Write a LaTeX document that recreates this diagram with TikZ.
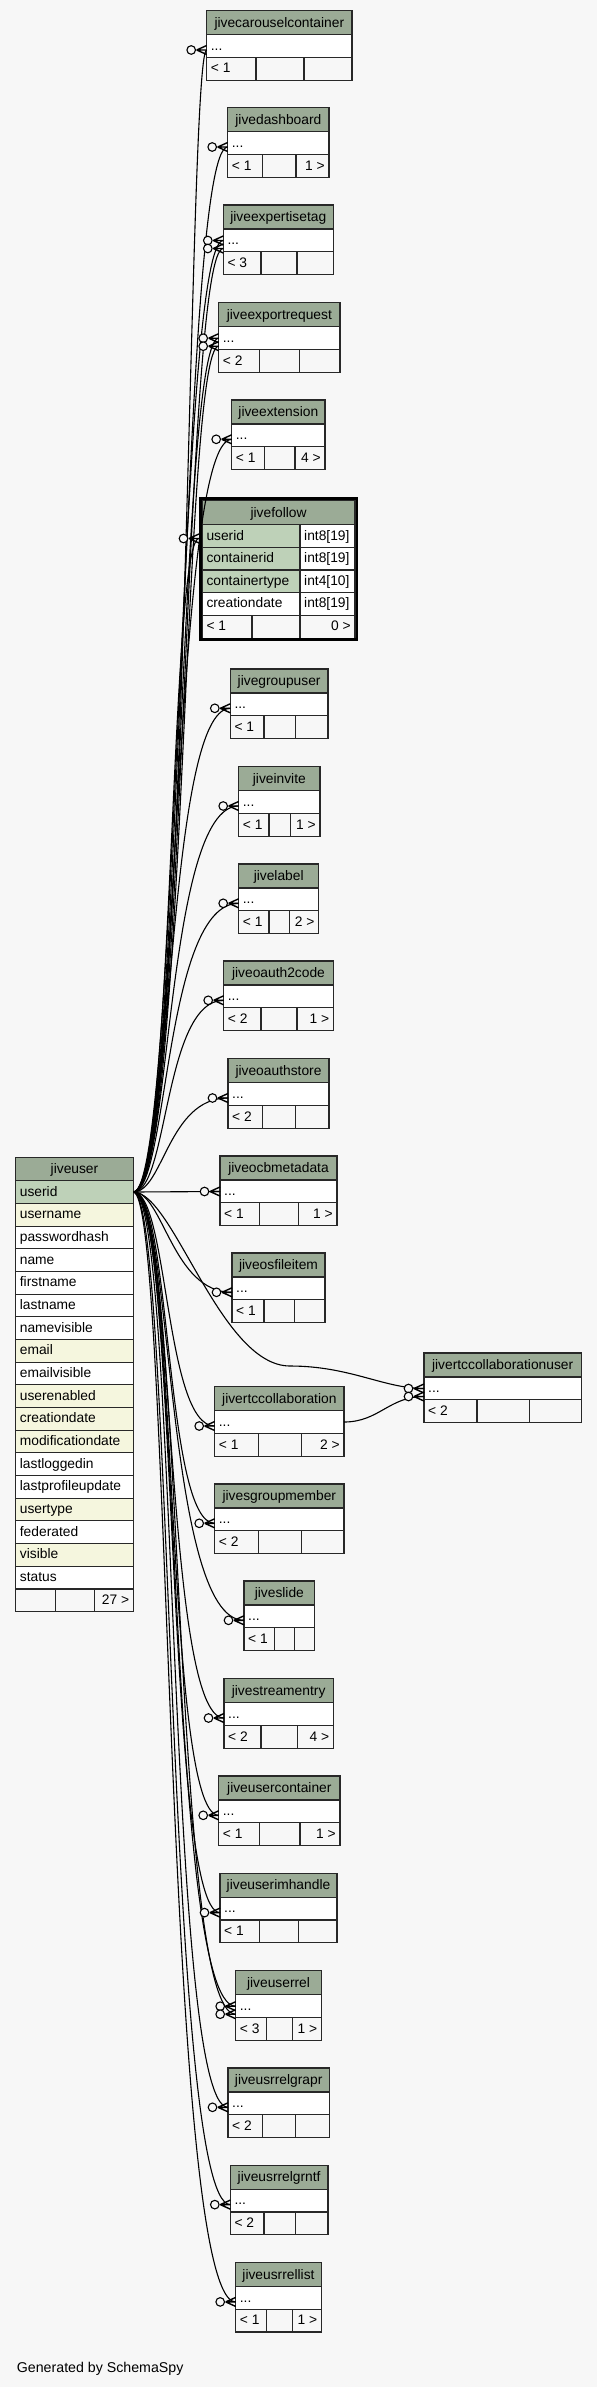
\documentclass[tikz,border=0pt]{standalone}
\usepackage{fontspec}
\setmainfont{Liberation Sans}
\usetikzlibrary{calc}
\definecolor{bgc}{RGB}{247,247,247}
\definecolor{hdrc}{RGB}{155,171,150}
\definecolor{keyc}{RGB}{190,209,184}
\definecolor{idxc}{RGB}{245,246,222}
\definecolor{linec}{RGB}{40,40,40}
\newcommand{\tbl}[9]{%
 \pgfmathsetmacro{\tya}{#3+24}%
 \pgfmathsetmacro{\tyb}{#3+46.7}%
 \pgfmathsetmacro{\tyc}{#3+69.4}%
 \draw[cell,fill=hdrc] (#2,#3) rectangle (#4,\tya);
 \draw[cell,fill=white] (#2,\tya) rectangle (#4,\tyb);
 \draw[cell] (#2,\tyb) rectangle (#5,\tyc);
 \draw[cell] (#5,\tyb) rectangle (#6,\tyc);
 \draw[cell] (#6,\tyb) rectangle (#4,\tyc);
 \node[txt,anchor=base] (#1-h) at ({(#2+#4)/2},{#3+16.5}) {#9};
 \node[txt,anchor=base west] (#1-d) at ({#2+4},{#3+39.5}) {...};
 \node[txt,anchor=base west] (#1-l) at ({#2+4},{#3+62.3}) {#7};
 \node[txt,anchor=base east] (#1-r) at ({#4-4},{#3+62.3}) {#8};
 \coordinate (#1) at (#2,{#3+39.3});
 \coordinate (#1-a) at (#2,{#3+35.5});
 \coordinate (#1-b) at (#2,{#3+43.5});
}
\newcommand{\rel}[3]{\draw[edge] (ju-userid) .. controls +(#2,0) and +(-#3,0) .. (#1);}
\begin{document}
\begin{tikzpicture}[x=1pt,y=-1pt,
  cell/.style={draw=linec,line width=1.1pt},
  txt/.style={inner sep=0pt,font=\fontsize{13.8}{16}\selectfont},
  edge/.style={line width=1.1pt,black},
  crowodot/.pic={
    \draw[line width=1.4pt,black] (-10,0) -- (0,-4.5) (-10,0) -- (0,0) (-10,0) -- (0,4.5);
    \draw[line width=1.1pt,black,fill=bgc] (-15.5,0) circle (4.3);
  }]
\fill[bgc] (0,0) rectangle (597,2387);
\useasboundingbox (0,0) rectangle (597,2387);

% ---------- jiveuser ----------
\draw[cell,fill=hdrc] (15.7,1157.3) rectangle (133.3,1180.7);
\node[txt,anchor=base] (ju-h) at (74.5,1173.3) {jiveuser};
\foreach \t/\f [count=\i] in {userid/keyc,username/idxc,passwordhash/white,name/white,firstname/white,lastname/white,namevisible/white,email/idxc,emailvisible/white,userenabled/idxc,creationdate/idxc,modificationdate/idxc,lastloggedin/white,lastprofileupdate/white,usertype/idxc,federated/white,visible/idxc,status/white}{
  \pgfmathsetmacro{\ytop}{1180.7+(\i-1)*22.68}
  \draw[cell,fill=\f] (15.7,\ytop) rectangle (133.3,\ytop+22.68);
  \node[txt,anchor=base west] (ju-r\i) at (19.7,\ytop+15.3) {\t};
}
\draw[cell] (15.7,1588.9) rectangle (55.7,1611.6);
\draw[cell] (55.7,1588.9) rectangle (94.7,1611.6);
\draw[cell] (94.7,1588.9) rectangle (133.3,1611.6);
\node[txt,anchor=base east] (ju-r) at (129.3,1604.6) {27 >};
\coordinate (ju-userid) at (133.3,1192);

% ---------- small tables ----------
\tbl{carousel}{206.7}{10.7}{352}{256}{304}{< 1}{}{jivecarouselcontainer}
\tbl{dashboard}{227.7}{107.7}{329}{262.7}{296}{< 1}{1 >}{jivedashboard}
\tbl{expertisetag}{223.3}{205}{333.3}{261}{297}{< 3}{}{jiveexpertisetag}
\tbl{exportrequest}{218.7}{302.7}{340}{259.7}{299.7}{< 2}{}{jiveexportrequest}
\tbl{extension}{231.7}{400}{325}{264.3}{295}{< 1}{4 >}{jiveextension}
\tbl{groupuser}{230.3}{669}{328}{264}{295.7}{< 1}{}{jivegroupuser}
\tbl{invite}{238.7}{766.7}{320}{269}{290.3}{< 1}{1 >}{jiveinvite}
\tbl{label}{238.7}{864}{318.7}{269}{289.3}{< 1}{2 >}{jivelabel}
\tbl{oauthcode}{223.7}{961}{333.3}{261}{297}{< 2}{1 >}{jiveoauth2code}
\tbl{oauthstore}{228}{1058.7}{329}{262.3}{295.7}{< 2}{}{jiveoauthstore}
\tbl{ocbmetadata}{220}{1156}{337}{259.7}{298.7}{< 1}{1 >}{jiveocbmetadata}
\tbl{osfileitem}{232}{1253}{325}{264}{294.7}{< 1}{}{jiveosfileitem}
\tbl{rtccollab}{214.7}{1386.7}{344}{258.7}{301.7}{< 1}{2 >}{jivertccollaboration}
\tbl{rtcuser}{424}{1353}{581.3}{477}{529.3}{< 2}{}{jivertccollaborationuser}
\tbl{sgroupmember}{214.7}{1484}{344}{258.7}{301.7}{< 2}{}{jivesgroupmember}
\tbl{slide}{244}{1581}{314.7}{274.7}{294.7}{< 1}{}{jiveslide}
\tbl{streamentry}{224}{1678.7}{333.3}{261}{297.3}{< 2}{4 >}{jivestreamentry}
\tbl{usercontainer}{218.7}{1776}{340}{259.7}{300}{< 1}{1 >}{jiveusercontainer}
\tbl{userimhandle}{220}{1873.3}{337}{259.7}{298.7}{< 1}{}{jiveuserimhandle}
\tbl{userrel}{235.7}{1970.7}{321.3}{266.3}{292.3}{< 3}{1 >}{jiveuserrel}
\tbl{usrrelgrapr}{228}{2068}{329.3}{262.3}{295.7}{< 2}{}{jiveusrrelgrapr}
\tbl{usrrelgrntf}{230.3}{2165.3}{328}{264}{295.7}{< 2}{}{jiveusrrelgrntf}
\tbl{usrrellist}{235.7}{2262.6}{321.3}{266.3}{292.3}{< 1}{1 >}{jiveusrrellist}

% ---------- jivefollow ----------
\draw[cell,fill=hdrc] (202.3,500.7) rectangle (355,524.7);
\node[txt,anchor=base] (jf-h) at (278.6,517.2) {jivefollow};
\foreach \a/\b/\f [count=\i] in {userid/int8[19]/keyc,containerid/int8[19]/keyc,containertype/int4[10]/keyc,creationdate/int8[19]/white}{
  \pgfmathsetmacro{\ytop}{524.7+(\i-1)*22.65}
  \draw[cell,fill=\f] (202.3,\ytop) rectangle (300,\ytop+22.65);
  \draw[cell,fill=white] (300,\ytop) rectangle (355,\ytop+22.65);
  \node[txt,anchor=base west] (jf-a\i) at (206.3,\ytop+15.3) {\a};
  \node[txt,anchor=base west] (jf-b\i) at (304,\ytop+15.3) {\b};
}
\draw[cell] (202.3,615.3) rectangle (252,638.3);
\draw[cell] (252,615.3) rectangle (300,638.3);
\draw[cell] (300,615.3) rectangle (355,638.3);
\node[txt,anchor=base west] (jf-l) at (206.3,630.8) {< 1};
\node[txt,anchor=base east] (jf-r) at (351,630.8) {0 >};
\draw[black,line width=2.6pt] (200.3,498.6) rectangle (357,639.7);
\coordinate (follow) at (199,538.5);

% ---------- relationships ----------
\rel{carousel}{55}{19}
\rel{dashboard}{50}{48}
\rel{expertisetag-a}{45}{45}
\rel{expertisetag-b}{52}{40}
\rel{exportrequest-a}{48}{40}
\rel{exportrequest-b}{52}{36}
\rel{extension}{45}{60}
\rel{follow}{40}{29}
\rel{groupuser}{40}{65}
\rel{invite}{38}{74}
\rel{label}{35}{75}
\rel{oauthcode}{35}{60}
\rel{oauthstore}{30}{60}
\draw[edge] (ju-userid) -- (ocbmetadata-a);
\rel{osfileitem}{30}{60}
\rel{rtccollab}{35}{50}
\rel{sgroupmember}{38}{50}
\rel{slide}{40}{80}
\rel{streamentry}{42}{60}
\rel{usercontainer}{45}{55}
\rel{userimhandle}{45}{55}
\rel{userrel-a}{48}{70}
\rel{userrel-b}{52}{66}
\rel{usrrelgrapr}{45}{62}
\rel{usrrelgrntf}{40}{65}
\rel{usrrellist}{38}{72}
\coordinate (rcu-w) at (290,1366);
\coordinate (rtccollab-out) at (344,1422);
\draw[edge] (ju-userid) .. controls +(40,0) and +(-70,0) .. (rcu-w) .. controls +(60,0) and +(-40,0) .. (rtcuser-a);
\draw[edge] (rtccollab-out) .. controls +(35,0) and +(-35,0) .. (rtcuser-b);

% ---------- end markers ----------
\foreach \p in {carousel,dashboard,expertisetag-a,expertisetag-b,exportrequest-a,exportrequest-b,extension,follow,groupuser,invite,label,oauthcode,oauthstore,ocbmetadata-a,osfileitem,rtccollab,sgroupmember,slide,streamentry,usercontainer,userimhandle,userrel-a,userrel-b,usrrelgrapr,usrrelgrntf,usrrellist,rtcuser-a,rtcuser-b}{
  \pic at (\p) {crowodot};
}

\node[txt,anchor=base west,font=\fontsize{14.2}{16}\selectfont] (footer) at (16.7,2372.7) {Generated by SchemaSpy};
\end{tikzpicture}
\end{document}
